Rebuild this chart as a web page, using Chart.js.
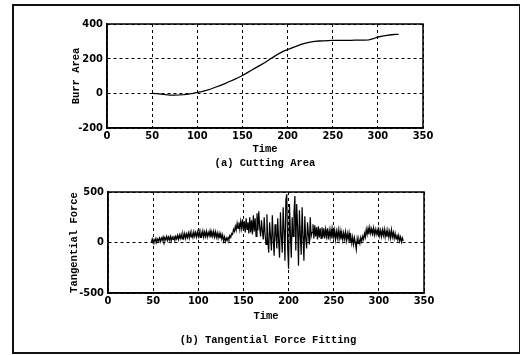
<!DOCTYPE html>
<html>
<head>
<meta charset="utf-8">
<script src="https://cdn.jsdelivr.net/npm/chart.js@4/dist/chart.umd.min.js"></script>
<style>
  html, body { margin: 0; padding: 0; background: #fff; }
  body { width: 520px; height: 355px; position: relative; overflow: hidden; }
  #frame { position: absolute; left: 12px; top: 4px; width: 505px; height: 346px; border: 2px solid #111; box-sizing: content-box; }
  canvas { position: absolute; left: 0; }
  #c1 { top: 0; }
  #c2 { top: 175px; }
  .cap { position: absolute; font: bold 10.5px "Liberation Mono", "DejaVu Sans Mono", monospace; color: #000; white-space: nowrap; transform: translate(-50%, -50%); }
</style>
</head>
<body>
<div id="frame"></div>
<canvas id="c1" width="520" height="175"></canvas>
<canvas id="c2" width="520" height="180"></canvas>
<div class="cap" style="left:265px; top:163px;">(a) Cutting Area</div>
<div class="cap" style="left:268px; top:340px;">(b) Tangential Force Fitting</div>
<script>
// ---- data ----
const xTicks = [0, 50, 100, 150, 200, 250, 300, 350];
const areaTicks = [-200, 0, 200, 400];
const forceTicks = [-500, 0, 500];

const areaTime = [50, 55, 60, 65, 70, 75, 80, 85, 90, 95, 100, 105, 110, 115, 120, 125, 130, 135, 140, 145,
  150, 155, 160, 165, 170, 175, 180, 185, 190, 195, 200, 205, 210, 215, 220, 225, 230, 235, 240, 245,
  250, 255, 260, 265, 270, 275, 280, 285, 290, 295, 300, 305, 310, 315, 320, 323];
const burrArea = [0, -2, -5, -8, -10, -10, -9, -7, -4, 0, 5, 10, 17, 25, 35, 45, 55, 67, 78, 90,
  103, 118, 133, 148, 163, 178, 195, 212, 228, 242, 252, 262, 272, 282, 290, 296, 300, 302, 303, 304,
  305, 305, 306, 306, 306, 307, 307, 307, 308, 315, 325, 330, 334, 338, 340, 340];

const forceStartTime = 48;   // first sample time; one sample per time unit
const tangentialForce = [
  0, 35, -5, 30, 10, 40, 0, 35, 15, 45,
  10, 45, 20, 55, 15, 50, 25, 60, 20, 55,
  25, 60, 15, 55, 30, 65, 20, 60, 35, 70,
  30, 75, 40, 80, 35, 85, 45, 90, 40, 85,
  50, 95, 45, 100, 55, 90, 50, 105, 60, 100,
  55, 105, 60, 110, 50, 100, 65, 115, 55, 105,
  60, 110, 55, 100, 65, 115, 50, 105, 60, 110,
  55, 105, 50, 95, 45, 90, 40, 85, 35, 75,
  15, 55, 10, 45, 20, 50, 30, 70, 50, 90,
  80, 130, 110, 160, 120, 190, 140, 200, 130, 210,
  140, 230, 120, 210, 100, 240, 130, 200, 90, 250,
  100, 220, 80, 270, 110, 240, 60, 290, 120, 310,
  150, 60, 220, 110, 30, 250, 80, -20, 280, 20,
  -100, 200, 60, -80, 270, 40, -130, 180, 90, -60,
  240, 20, -150, 300, 60, -100, 350, 120, -180, 420,
  480, -50, -260, 380, 100, -150, 250, 60, 300, 460,
  -80, 380, 150, -230, 320, 80, -120, 350, 60, -180,
  260, 40, -60, 200, 80, -20, 250, 60, 100, 180,
  40, 170, 60, 150, 30, 160, 50, 140, 40, 150,
  50, 140, 40, 130, 60, 140, 30, 120, 50, 130,
  40, 130, 50, 120, 30, 110, 45, 125, 35, 115,
  30, 100, 25, 95, 35, 105, 20, 90, 30, 95,
  0, 60, -10, 55, -20, 45, -5, -70, 40, -10,
  30, -10, 50, 10, 60, 30, 90, 50, 130, 80,
  140, 80, 150, 90, 135, 85, 145, 75, 130, 80,
  125, 70, 130, 65, 120, 60, 125, 70, 130, 55,
  115, 55, 120, 50, 110, 45, 125, 55, 100, 40,
  90, 35, 80, 25, 70, 15, 55, 5, 45, 15
];

// ---- chart helpers ----
const tickFont = { family: '"Liberation Sans Narrow", "DejaVu Sans Condensed", "Liberation Sans", sans-serif', size: 11, weight: 'bold' };
const titleFont = { family: '"Liberation Mono", "DejaVu Sans Mono", monospace', size: 10.5, weight: 'bold' };
const gridDash = [3, 3];

const framePlugin = {
  id: 'frameBox',
  afterDraw(chart) {
    const a = chart.chartArea, ctx = chart.ctx;
    ctx.save();
    ctx.strokeStyle = '#000';
    ctx.lineWidth = 1.5;
    ctx.strokeRect(a.left, a.top, a.right - a.left, a.bottom - a.top);
    ctx.restore();
  }
};

function makeChart(id, pts, yTicks, lay, lineW) {
  const yMin = yTicks[0], yMax = yTicks[yTicks.length - 1];
  return new Chart(document.getElementById(id), {
    type: 'line',
    data: { datasets: [{ data: pts, borderColor: '#000', borderWidth: lineW, pointRadius: 0, tension: 0, fill: false }] },
    options: {
      responsive: false, animation: false, devicePixelRatio: 1,
      layout: { padding: { left: 0, right: lay.right, top: lay.top, bottom: 0 } },
      plugins: { legend: { display: false }, tooltip: { enabled: false } },
      scales: {
        x: {
          type: 'linear', min: xTicks[0], max: xTicks[xTicks.length - 1],
          afterBuildTicks: s => { s.ticks = xTicks.map(v => ({ value: v })); },
          afterFit: s => { s.height = lay.xh; },
          ticks: { color: '#000', font: tickFont, padding: 2, maxRotation: 0, autoSkip: false },
          grid: { color: '#000', lineWidth: 1, drawTicks: false },
          border: { display: true, color: '#000', width: 1.5, dash: gridDash },
          title: { display: true, text: 'Time', color: '#000', font: titleFont, padding: { top: 0, bottom: lay.timePad } }
        },
        y: {
          type: 'linear', min: yMin, max: yMax,
          afterBuildTicks: s => { s.ticks = yTicks.map(v => ({ value: v })); },
          afterFit: s => { s.width = lay.yw; },
          ticks: { color: '#000', font: tickFont, padding: 4, autoSkip: false },
          grid: { color: '#000', lineWidth: 1, drawTicks: false },
          border: { display: true, color: '#000', width: 1.5, dash: gridDash },
          title: { display: true, text: lay.yTitle, color: '#000', font: titleFont, padding: { top: lay.yTitlePad, bottom: 0 } }
        }
      }
    },
    plugins: [framePlugin]
  });
}

const areaPts = areaTime.map((t, i) => ({ x: t, y: burrArea[i] }));
const forcePts = tangentialForce.map((v, i) => ({ x: forceStartTime + i, y: v }));

const opts1 = { right: 97, top: 24, xh: 47, yw: 107, timePad: 19, yTitle: 'Burr Area', yTitlePad: 70 };
const opts2 = { right: 96, top: 17, xh: 62, yw: 108, timePad: 32, yTitle: 'Tangential Force', yTitlePad: 68 };

makeChart('c1', areaPts, areaTicks, opts1, 1.3);
makeChart('c2', forcePts, forceTicks, opts2, 1.2);
</script>
</body>
</html>
